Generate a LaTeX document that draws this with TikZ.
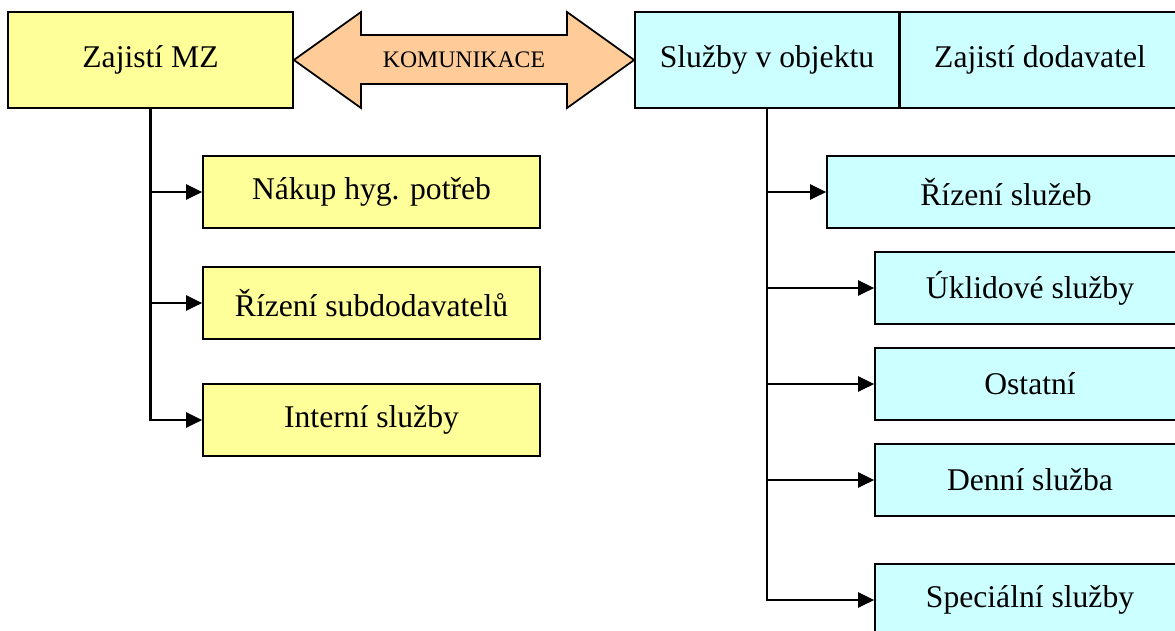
\documentclass[tikz,border=0pt]{standalone}
\usepackage{fontspec}
\setmainfont{Liberation Serif}
\usetikzlibrary{arrows.meta}
\definecolor{mzyellow}{HTML}{FFFF99}
\definecolor{dodcyan}{HTML}{CCFFFF}
\definecolor{komorange}{HTML}{FFCC99}

\begin{document}
\begin{tikzpicture}[x=0.02cm, y=-0.02cm,
    box/.style={draw, line width=1pt, inner sep=0pt, font=\fontsize{18}{20}\selectfont},
    mzbox/.style={box, fill=mzyellow, minimum width=6.74cm, minimum height=1.44cm},
    dodbox/.style={box, fill=dodcyan, minimum width=6.2cm, minimum height=1.44cm},
    conn/.style={line width=1.3pt, -{Triangle[length=0.32cm, width=0.3cm]}}]
    \useasboundingbox (0, 0) rectangle (1175, 630);
    \clip (0, 0) rectangle (1175, 630);
    % horni radek
    \node (mz) [box, fill=mzyellow, minimum width=5.7cm, minimum height=1.92cm] at (150.5, 60) {Zajistí MZ};
    \node (obj) [box, fill=dodcyan, minimum width=5.28cm, minimum height=1.92cm] at (767, 60) {Služby v objektu};
    \node (dod) [box, fill=dodcyan, minimum width=5.6cm, minimum height=1.92cm] at (1040, 60) {Zajistí dodavatel};
    \draw[line width=1pt, fill=komorange] (mz.east) -- (361, 12) -- (361, 35) -- (567, 35) -- (567, 12)
          -- (obj.west) -- (567, 108) -- (567, 84) -- (361, 84) -- (361, 108) -- cycle;
    \node (kom) [font=\fontsize{13.5}{15}\selectfont] at (464, 60) {KOMUNIKACE};
    % zajisti MZ
    \node (nakup) [mzbox] at (371.5, 192) {Nákup hyg. potřeb};
    \node (subdod) [mzbox] at (371.5, 303) {Řízení subdodavatelů};
    \node (interni) [mzbox] at (371.5, 420) {Interní služby};
    \foreach \n in {nakup, subdod, interni}
        \draw[conn] (mz.south) |- (\n.west);
    % sluzby v objektu
    \node (rizeni) [dodbox, minimum width=7.16cm] at (1006, 192) {Řízení služeb};
    \node (uklid) [dodbox] at (1030, 288) {Úklidové služby};
    \node (ostatni) [dodbox] at (1030, 384) {Ostatní};
    \node (denni) [dodbox] at (1030, 480) {Denní služba};
    \node (special) [dodbox] at (1030, 600) {Speciální služby};
    \foreach \n in {rizeni, uklid, ostatni, denni, special}
        \draw[conn] (obj.south) |- (\n.west);
\end{tikzpicture}
\end{document}
